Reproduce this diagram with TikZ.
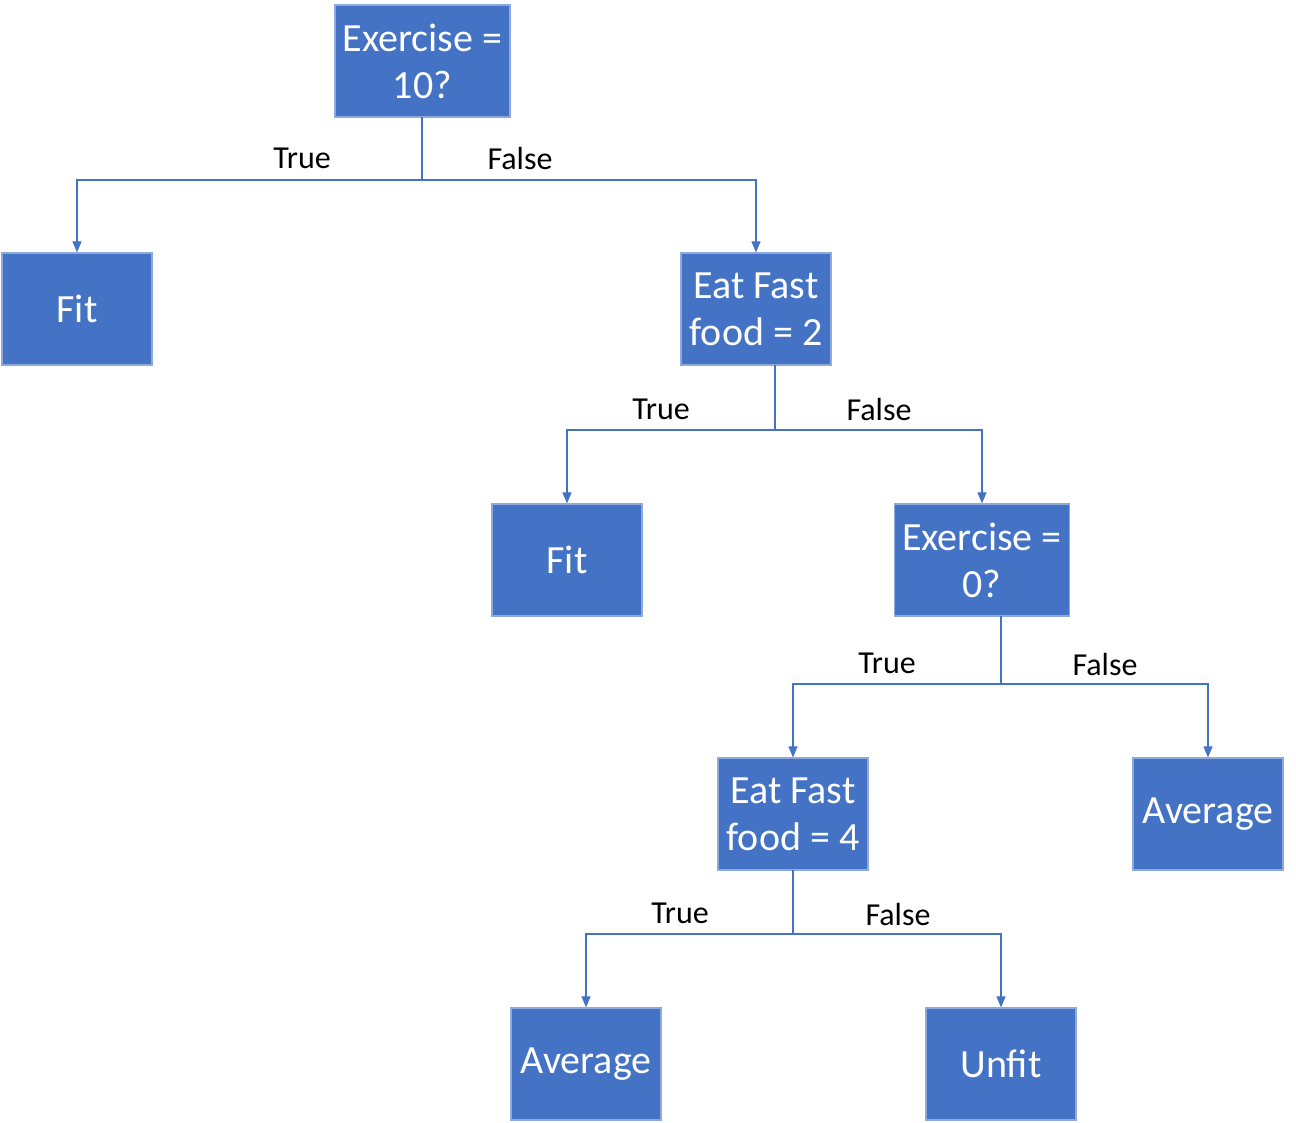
\documentclass[tikz,border=0pt]{standalone}
\usepackage{fontspec}
\setmainfont{Carlito}
\usetikzlibrary{arrows.meta}
\definecolor{boxfill}{HTML}{4472C4}
\definecolor{boxedge}{HTML}{8EA9DB}
\definecolor{linec}{HTML}{4472C4}
\begin{document}
\begin{tikzpicture}[x=1pt,y=-1pt,
  box/.style={rectangle, fill=boxfill, draw=boxedge, line width=1.2pt, text=white,
    minimum width=150pt, minimum height=112pt, inner sep=0pt, align=center,
    font=\fontsize{40}{47}\selectfont},
  widebox/.style={box, minimum width=175pt},
  lbl/.style={font=\fontsize{32}{38}\selectfont, text=black, inner sep=0pt},
  conn/.style={draw=linec, line width=1.1pt, -{Triangle[length=11pt,width=9pt]}},
  stem/.style={draw=linec, line width=1.1pt}]
\useasboundingbox (0,0) rectangle (1296,1122);
% nodes
\node[widebox] (root) at (422.5,61) {Exercise =\\10?};
\node[box] (fit1) at (77,309) {Fit};
\node[box] (ef2) at (756,309) {Eat Fast\\food = 2};
\node[box] (fit2) at (567,560) {Fit};
\node[widebox] (ex0) at (982,560) {Exercise =\\0?};
\node[box] (ef4) at (793,814) {Eat Fast\\food = 4};
\node[box] (avg1) at (1208,814) {Average};
\node[box] (avg2) at (586,1064) {Average};
\node[box] (unfit) at (1001,1064) {Unfit};
% junctions
\coordinate (s1) at (422,117);
\coordinate (j1) at (422,180);
\coordinate (s2) at (775,365);
\coordinate (j2) at (775,430);
\coordinate (s3) at (1001,616);
\coordinate (j3) at (1001,684);
\coordinate (s4) at (793,870);
\coordinate (j4) at (793,934);
% connectors
\draw[stem] (s1) -- (j1);
\draw[conn] (j1) -| (fit1.north);
\draw[conn] (j1) -| (ef2.north);
\draw[stem] (s2) -- (j2);
\draw[conn] (j2) -| (fit2.north);
\draw[conn] (j2) -| (ex0.north);
\draw[stem] (s3) -- (j3);
\draw[conn] (j3) -| (ef4.north);
\draw[conn] (j3) -| (avg1.north);
\draw[stem] (s4) -- (j4);
\draw[conn] (j4) -| (avg2.north);
\draw[conn] (j4) -| (unfit.north);
% labels
\node[lbl] (t1) at (302,158) {True};
\node[lbl] (f1) at (520,159) {False};
\node[lbl] (t2) at (661,409) {True};
\node[lbl] (f2) at (879,410) {False};
\node[lbl] (t3) at (887,663) {True};
\node[lbl] (f3) at (1105,664) {False};
\node[lbl] (t4) at (680,913) {True};
\node[lbl] (f4) at (898,914) {False};
\end{tikzpicture}
\end{document}
